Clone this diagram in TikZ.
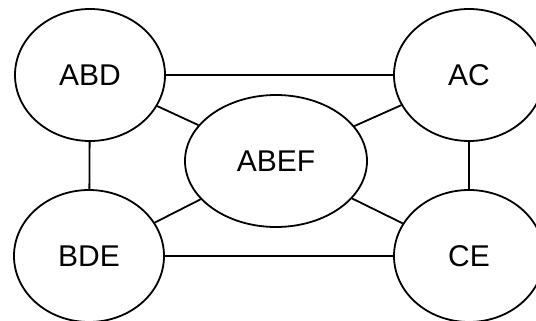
\documentclass[tikz,border=0pt]{standalone}
\usepackage{fontspec}
\setmainfont{Liberation Sans}
\usetikzlibrary{shapes.geometric}
\tikzset{
	menge/.style={ellipse, draw=black, line width=1.8pt, fill=white,
		minimum width=150pt, minimum height=132pt, inner sep=0pt,
		font=\fontsize{30}{34}\selectfont},
	kante/.style={line width=1.8pt, draw=black}
}
\begin{document}
\begin{tikzpicture}[x=1pt, y=-1pt]
	\useasboundingbox (0, 0) rectangle (536, 321);
	% Knoten
	\node[menge] (abd) at (90, 75) {ABD};
	\node[menge] (ac) at (469, 75) {AC};
	\node[menge] (bde) at (89, 256) {BDE};
	\node[menge] (ce) at (469, 256) {CE};
	\node[menge, minimum width=182pt] (abef) at (276, 161) {ABEF};
	% Kanten
	\draw[kante] (abd) -- (ac);
	\draw[kante] (abd) -- (bde);
	\draw[kante] (ac) -- (ce);
	\draw[kante] (bde) -- (ce);
	\draw[kante] (abd) -- (abef);
	\draw[kante] (ac) -- (abef);
	\draw[kante] (bde) -- (abef);
	\draw[kante] (ce) -- (abef);
\end{tikzpicture}
\end{document}
